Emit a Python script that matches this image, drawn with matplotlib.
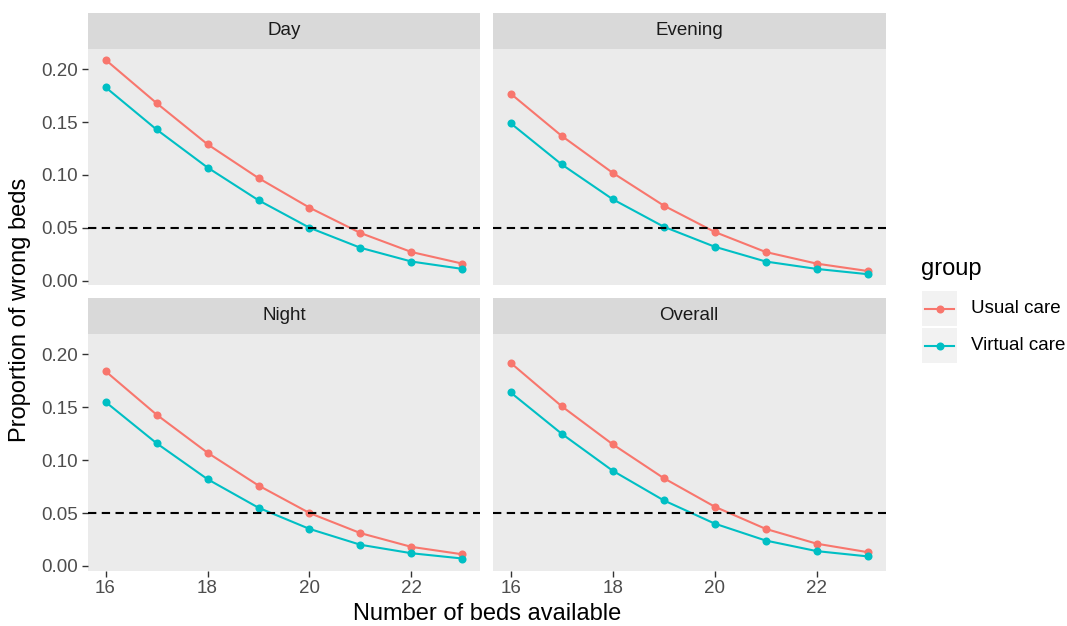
import matplotlib
matplotlib.use("Agg")
import matplotlib.pyplot as plt
from matplotlib.lines import Line2D
from matplotlib.patches import Rectangle

plt.rcParams["font.family"] = ["Liberation Sans", "DejaVu Sans"]

beds = [16, 17, 18, 19, 20, 21, 22, 23]
facets = ["Day", "Evening", "Night", "Overall"]
groups = ["Usual care", "Virtual care"]

day_usual = [0.209, 0.168, 0.129, 0.097, 0.069, 0.045, 0.027, 0.016]
day_virtual = [0.183, 0.143, 0.107, 0.076, 0.050, 0.031, 0.018, 0.011]
evening_usual = [0.177, 0.137, 0.102, 0.071, 0.046, 0.027, 0.016, 0.009]
evening_virtual = [0.149, 0.110, 0.077, 0.051, 0.032, 0.018, 0.011, 0.006]
night_usual = [0.184, 0.143, 0.107, 0.076, 0.050, 0.031, 0.018, 0.011]
night_virtual = [0.155, 0.116, 0.082, 0.055, 0.035, 0.020, 0.012, 0.007]
overall_usual = [0.192, 0.151, 0.115, 0.083, 0.056, 0.035, 0.021, 0.013]
overall_virtual = [0.164, 0.125, 0.090, 0.062, 0.040, 0.024, 0.014, 0.009]

threshold = 0.05
y_ticks = [0.00, 0.05, 0.10, 0.15, 0.20]
x_ticks = [16, 18, 20, 22]

series = {
    "Day": (day_usual, day_virtual),
    "Evening": (evening_usual, evening_virtual),
    "Night": (night_usual, night_virtual),
    "Overall": (overall_usual, overall_virtual),
}

COLORS = ["#F8766D", "#00BFC4"]
PANEL_BG = "#EBEBEB"
STRIP_BG = "#D9D9D9"
TICK_COL = "#4D4D4D"
W, H = 1067, 626


def fx(px):
    return px / W


def fy(py):
    return 1 - py / H


fig = plt.figure(figsize=(W / 100, H / 100), dpi=100)

# panel boxes in pixels: (left, right, top, bottom)
cols = [(87.7, 480.3), (492.7, 885.7)]
rows = [(49, 285.3), (334, 570.7)]
strip_h = 36.5

for i, name in enumerate(facets):
    r, c = divmod(i, 2)
    x0, x1 = cols[c]
    y0, y1 = rows[r]
    ax = fig.add_axes([fx(x0), fy(y1), fx(x1 - x0), (y1 - y0) / H])
    ax.set_facecolor(PANEL_BG)
    for s in ax.spines.values():
        s.set_visible(False)

    usual, virtual = series[name]
    for vals, col in zip((usual, virtual), COLORS):
        ax.plot(beds, vals, color=col, lw=1.5, marker="o", ms=5.8,
                markeredgewidth=0, solid_capstyle="butt")
    ax.axhline(threshold, color="black", lw=1.5, dashes=(4, 2.6))

    ax.set_xlim(15.65, 23.35)
    ax.set_ylim(-0.0045, 0.2192)
    ax.set_xticks(x_ticks)
    ax.set_yticks(y_ticks)
    ax.tick_params(colors="#333333", labelcolor=TICK_COL, labelsize=13.5,
                   length=4.4, width=1.0, pad=2.5)
    ax.set_yticklabels([f"{v:.2f}" for v in y_ticks])
    if c == 1:
        ax.tick_params(axis="y", left=False, labelleft=False)
    if r == 0:
        ax.tick_params(axis="x", bottom=False, labelbottom=False)

    sax = fig.add_axes([fx(x0), fy(y0), fx(x1 - x0), strip_h / H])
    sax.set_facecolor(STRIP_BG)
    sax.set_xticks([])
    sax.set_yticks([])
    for s in sax.spines.values():
        s.set_visible(False)
    sax.text(0.5, 0.5, name, ha="center", va="center", fontsize=13.5,
             color="#1A1A1A", transform=sax.transAxes)

fig.text(fx(486.7), fy(614), "Number of beds available", ha="center",
         va="center", fontsize=17)
fig.text(fx(20), fy(310), "Proportion of wrong beds", ha="center",
         va="center", rotation=90, fontsize=17)

# legend drawn by hand, ggplot style
fig.text(fx(921), fy(269), "group", ha="left", va="center", fontsize=17)
for k, (lab, col) in enumerate(zip(groups, COLORS)):
    top = 291 + k * 37
    fig.patches.append(Rectangle((fx(922), fy(top + 35)), fx(35), 35 / H,
                                 transform=fig.transFigure,
                                 facecolor="#F2F2F2", edgecolor="none"))
    cy = fy(top + 17.5)
    fig.lines.append(Line2D([fx(925), fx(954)], [cy, cy], color=col, lw=1.5,
                            transform=fig.transFigure))
    fig.lines.append(Line2D([fx(939.5)], [cy], color=col, marker="o", ms=5.8,
                            markeredgewidth=0, transform=fig.transFigure))
    fig.text(fx(971), cy, lab, ha="left", va="center", fontsize=13.5)

fig.savefig("out.png", dpi=100)
